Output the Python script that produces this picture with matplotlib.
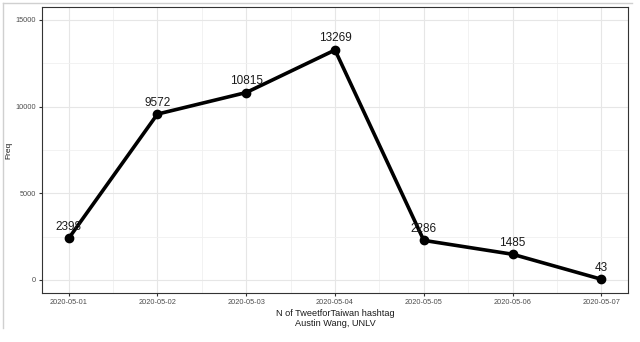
import matplotlib
matplotlib.use("Agg")
import matplotlib.pyplot as plt
import matplotlib.dates as mdates
import numpy as np
import pandas as pd

dates = ["2020-05-01", "2020-05-02", "2020-05-03", "2020-05-04",
         "2020-05-05", "2020-05-06", "2020-05-07"]
freq = [2398, 9572, 10815, 13269, 2286, 1485, 43]
y_ticks = [0, 5000, 10000, 15000]
caption = "N of TweetforTaiwan hashtag\nAustin Wang, UNLV"

plt.rcParams["font.family"] = ["Liberation Sans", "DejaVu Sans"]

x = pd.to_datetime(dates)

fig = plt.figure(figsize=(6.4, 3.42), dpi=100)
W, H = 640, 342
ax = fig.add_axes([42 / W, 1 - 293 / H, (628 - 42) / W, (293 - 7) / H])

# panel grid (major and minor), theme_bw style
ax.set_axisbelow(True)
ax.xaxis.set_major_locator(mdates.DayLocator())
ax.xaxis.set_minor_locator(mdates.HourLocator(byhour=[12]))
ax.xaxis.set_major_formatter(mdates.DateFormatter("%Y-%m-%d"))
ax.set_yticks(y_ticks)
ax.set_yticks([2500, 7500, 12500], minor=True)
ax.grid(which="major", color="#E6E6E6", linewidth=0.8)
ax.grid(which="minor", color="#F0F0F0", linewidth=0.6)

ax.plot(x, freq, color="black", linewidth=2.6, solid_joinstyle="round", zorder=3)
ax.scatter(x, freq, s=36, color="black", zorder=4)

for xi, yi in zip(x, freq):
    ax.annotate(str(yi), (xi, yi), xytext=(0, 4), textcoords="offset points",
                ha="center", va="bottom", fontsize=8.5, color="#1a1a1a", zorder=5)

span = x[-1] - x[0]
ax.set_xlim(x[0] - span * 0.05, x[-1] + span * 0.05)
ax.set_ylim(-750, 15750)

for s in ax.spines.values():
    s.set_color("#333333")
    s.set_linewidth(0.8)

ax.tick_params(which="major", length=2.5, color="#333333", labelsize=5.3,
               labelcolor="#4D4D4D", pad=2)
ax.tick_params(which="minor", length=0)

ax.set_ylabel("Freq", fontsize=6, color="#1a1a1a")
ax.yaxis.set_label_coords((12 - 42) / 586, 0.5)
ax.set_xlabel(caption, fontsize=6.6, color="#1a1a1a", labelpad=2, linespacing=1.1)

# thin light frame around the figure
fig.add_artist(plt.Line2D([3 / W, 632 / W], [1 - 3 / H, 1 - 3 / H],
                          color="#D0D0D0", linewidth=1, transform=fig.transFigure))
fig.add_artist(plt.Line2D([3 / W, 3 / W], [1 - 3 / H, 1 - 328 / H],
                          color="#D0D0D0", linewidth=1, transform=fig.transFigure))

fig.savefig("out.png", dpi=100)
